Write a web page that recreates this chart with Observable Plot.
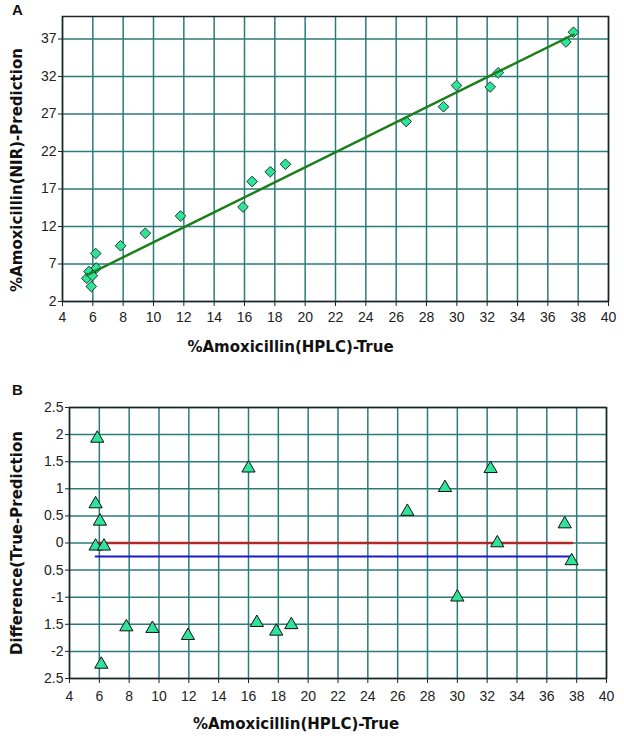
<!DOCTYPE html>
<html><head><meta charset="utf-8">
<script src="https://cdn.jsdelivr.net/npm/d3@7"></script>
<script src="https://cdn.jsdelivr.net/npm/@observablehq/plot@0.6"></script>
<style>
body{margin:0;background:#fff;}
#wrap{position:relative;width:624px;height:741px;overflow:hidden;}
.panel{position:absolute;left:0;}
.tag{position:absolute;left:12px;font:bold 15px "Liberation Sans",Arial,sans-serif;color:#111;}
</style></head><body>
<div id="wrap">
<div class="panel" id="pa" style="top:0"></div>
<div class="panel" id="pb" style="top:370px"></div>
<div class="tag" style="top:1px">A</div>
<div class="tag" style="top:381px">B</div>
</div>
<script>
// ---- data ----
const trueA = [5.75, 5.6, 5.97, 5.9, 6.19, 6.23, 7.83, 9.46, 11.78, 15.9, 16.5, 17.7, 18.7, 26.66, 29.12, 29.98, 32.2, 32.73, 37.19, 37.69];
const predA = [6.0, 5.1, 5.45, 4.0, 8.4, 6.47, 9.43, 11.1, 13.4, 14.6, 18.0, 19.3, 20.3, 26.0, 27.97, 30.8, 30.6, 32.5, 36.6, 37.9];
const fitX = [5.6, 37.7];
const fitY = [5.5, 37.6];

const trueB = [5.86, 5.75, 6.04, 5.75, 6.31, 6.13, 7.81, 9.56, 11.94, 16.0, 16.56, 17.86, 18.87, 26.65, 29.17, 32.23, 37.2, 32.68, 37.66, 30.0];
const diffB = [1.93, 0.72, 0.40, -0.06, -0.06, -2.24, -1.55, -1.58, -1.71, 1.38, -1.47, -1.63, -1.51, 0.58, 1.02, 1.37, 0.35, 0.0, -0.33, -1.0];
const zeroX = [5.95, 37.7];
const zeroY = [0, 0];
const biasX = [5.75, 37.6];
const biasY = [-0.25, -0.25];

const xTicks = [4, 6, 8, 10, 12, 14, 16, 18, 20, 22, 24, 26, 28, 30, 32, 34, 36, 38, 40];
const yTicksA = [2, 7, 12, 17, 22, 27, 32, 37];
const yTicksB = [2.5, 2, 1.5, 1, 0.5, 0, -0.5, -1, -1.5, -2, -2.5];
const yLabelsB = ["2.5", "2", "1.5", "1", "0.5", "0", "0.5", "-1", "1.5", "-2", "2.5"];

const xTitle = "%Amoxicillin(HPLC)-True";
const yTitleA = "%Amoxicillin(NIR)-Prediction";
const yTitleB = "Difference(True-Prediction";

// ---- styles ----
const teal = "#2b7b7b";
const mint = "#2fe39a";
const edge = "#1b3b2b";
const titleFont = "DejaVu Sans, Verdana, sans-serif";
const baseStyle = {fontFamily: "Liberation Sans, Arial, sans-serif", fontSize: "14px", color: "#222", background: "white", overflow: "visible"};

const rowsA = trueA.map((t, i) => ({t, p: predA[i]}));
const fitRows = fitX.map((x, i) => ({x, y: fitY[i]}));
const rowsB = trueB.map((t, i) => ({t, d: diffB[i]}));
const zeroRows = zeroX.map((x, i) => ({x, y: zeroY[i]}));
const biasRows = biasX.map((x, i) => ({x, y: biasY[i]}));

const plotA = Plot.plot({
  width: 624, height: 370,
  marginLeft: 62, marginRight: 16, marginTop: 16, marginBottom: 69,
  style: baseStyle,
  x: {domain: [4, 40]},
  y: {domain: [2, 40]},
  marks: [
    Plot.gridX(xTicks, {stroke: teal, strokeOpacity: 1, strokeWidth: 1.5}),
    Plot.gridY(yTicksA, {stroke: teal, strokeOpacity: 1, strokeWidth: 1.5}),
    Plot.frame({stroke: "#222", strokeWidth: 1.5}),
    Plot.axisX(xTicks, {tickSize: 5, tickPadding: 6, label: null}),
    Plot.axisY(yTicksA, {tickSize: 4, tickPadding: 2, label: null}),
    Plot.dot(rowsA, {x: "t", y: "p", symbol: "diamond2", r: 4.8, fill: mint, stroke: edge, strokeWidth: 1}),
    Plot.line(fitRows, {x: "x", y: "y", stroke: "#1a7f1a", strokeWidth: 2.5}),
    Plot.text([xTitle], {frameAnchor: "bottom", dx: -45, dy: 50, fontWeight: "bold", fontFamily: titleFont, fontSize: 15, fill: "#111"}),
    Plot.text([yTitleA], {frameAnchor: "left", rotate: -90, dx: -45, dy: 11, textAnchor: "middle", fontWeight: "bold", fontFamily: titleFont, fontSize: 15, fill: "#111"})
  ]
});
document.getElementById("pa").append(plotA);

const plotB = Plot.plot({
  width: 624, height: 371,
  marginLeft: 69, marginRight: 18, marginTop: 37, marginBottom: 63,
  style: baseStyle,
  x: {domain: [4, 40]},
  y: {domain: [-2.5, 2.5]},
  marks: [
    Plot.gridX(xTicks, {stroke: teal, strokeOpacity: 1, strokeWidth: 1.5}),
    Plot.gridY(yTicksB, {stroke: teal, strokeOpacity: 1, strokeWidth: 1.5}),
    Plot.frame({stroke: "#222", strokeWidth: 1.5}),
    Plot.axisX(xTicks, {tickSize: 5, tickPadding: 8, label: null}),
    Plot.axisY(yTicksB, {tickSize: 4, tickPadding: 2, label: null, tickFormat: (d) => yLabelsB[yTicksB.indexOf(d)]}),
    Plot.line(zeroRows, {x: "x", y: "y", stroke: "#b02a2a", strokeWidth: 2.5}),
    Plot.line(biasRows, {x: "x", y: "y", stroke: "#1a1ad0", strokeWidth: 2}),
    Plot.dot(rowsB, {x: "t", y: "d", symbol: "triangle", r: 4.9, fill: mint, stroke: "#111", strokeWidth: 1}),
    Plot.text([xTitle], {frameAnchor: "bottom", dx: -42, dy: 50, fontWeight: "bold", fontFamily: titleFont, fontSize: 15, fill: "#111"}),
    Plot.text([yTitleB], {frameAnchor: "left", rotate: -90, dx: -52, dy: 0, textAnchor: "middle", fontWeight: "bold", fontFamily: titleFont, fontSize: 15, fill: "#111"})
  ]
});
document.getElementById("pb").append(plotB);
</script>
</body></html>
